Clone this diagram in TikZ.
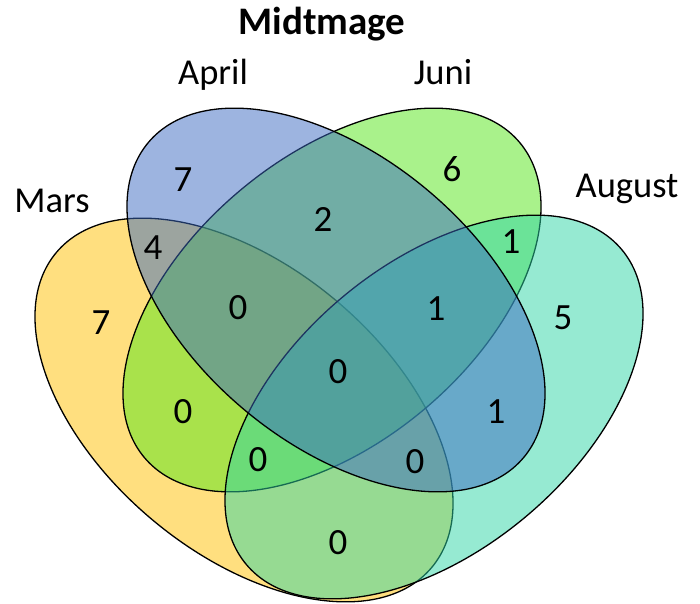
\documentclass[tikz,border=0pt]{standalone}
\usepackage{fontspec}
\setmainfont{Carlito}
\usetikzlibrary{positioning}
\definecolor{marsc}{RGB}{255,192,0}
\definecolor{junic}{RGB}{84,230,24}
\definecolor{augc}{RGB}{45,213,165}
\definecolor{aprc}{RGB}{59,105,193}
\tikzset{
    set/.style={
        draw=black,
        line width=1.3pt,
        fill opacity=0.5
    },
    lbl/.style={
        anchor=base,
        inner sep=0pt,
        font=\fontsize{36.5}{42}\selectfont
    },
    ttl/.style={
        anchor=base,
        inner sep=0pt,
        font=\bfseries\fontsize{39}{44}\selectfont
    },
    num/.style={
        inner sep=0pt,
        font=\fontsize{37}{42}\selectfont
    }
}

\begin{document}
\begin{tikzpicture}[x=1pt,y=1pt]
\clip (0,0) rectangle (700,603);
% the four sets, back to front
\draw[set,fill=marsc,shift={(244,193)},rotate=-40] (0,0) ellipse [x radius=245pt,y radius=143pt];
\draw[set,fill=junic,shift={(332,303)},rotate=40] (0,0) ellipse [x radius=245pt,y radius=143pt];
\draw[set,fill=augc,shift={(434,196)},rotate=40] (0,0) ellipse [x radius=245pt,y radius=143pt];
\draw[set,fill=aprc,shift={(336,303)},rotate=-40] (0,0) ellipse [x radius=245pt,y radius=143pt];
% labels
\node[ttl] (title) at (322,568) {Midtmage};
\node[lbl] (april) at (213,518) {April};
\node[lbl] (juni) at (443,518) {Juni};
\node[lbl] (mars) at (52,390) {Mars};
\node[lbl] (august) at (627,405) {August};
% counts
\node[num] (m) at (101,280) {7};
\node[num] (a) at (183,423) {7};
\node[num] (j) at (452,434) {6};
\node[num] (g) at (563,285) {5};
\node[num] (ma) at (153,355) {4};
\node[num] (aj) at (323,384) {2};
\node[num] (jg) at (511,361) {1};
\node[num] (maj) at (238,295) {0};
\node[num] (ajg) at (436,294) {1};
\node[num] (majg) at (338,231) {0};
\node[num] (mj) at (183,191) {0};
\node[num] (ag) at (496,191) {1};
\node[num] (mjg) at (258,143) {0};
\node[num] (mag) at (415,141) {0};
\node[num] (mg) at (338,60) {0};
\end{tikzpicture}
\end{document}
